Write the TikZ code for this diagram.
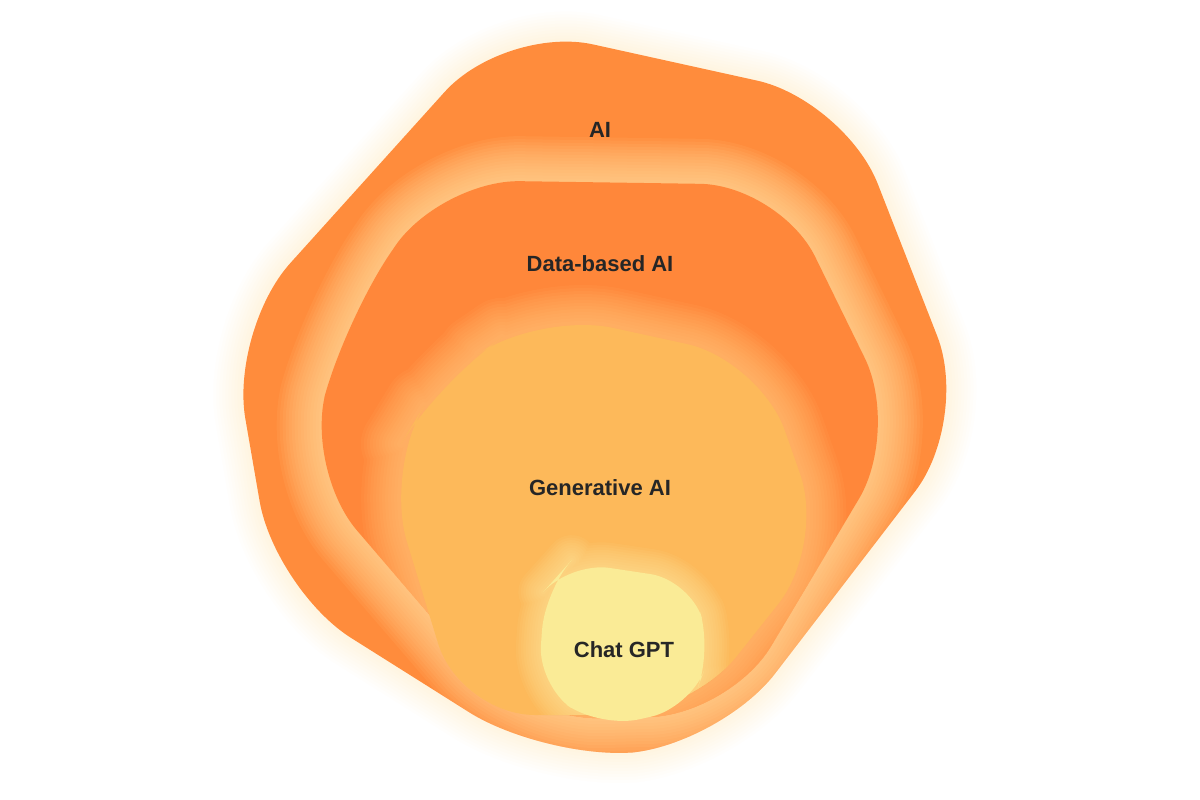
\documentclass[tikz,border=0pt]{standalone}
\usepackage{fontspec}
\setmainfont{Liberation Sans}
\definecolor{cA}{RGB}{255,140,60}
\definecolor{cB}{RGB}{255,135,58}
\definecolor{cC}{RGB}{253,185,90}
\definecolor{cD}{RGB}{250,235,150}
\definecolor{gA}{RGB}{255,225,160}
\definecolor{gB}{RGB}{255,228,165}
\definecolor{gC}{RGB}{255,215,140}
\definecolor{gD}{RGB}{252,235,160}
\begin{document}
\begin{tikzpicture}[x=1pt,y=-1pt,
  lbl/.style={font=\bfseries\fontsize{22}{26}\selectfont, text=black!85},
  glow/.style={line join=round, line cap=round}]
\useasboundingbox (0,0) rectangle (1200,800);
\fill[white] (0,0) rectangle (1200,800);
\def\shA{(505,25) -- (845,100) -- (970,420) -- (720,745) -- (545,760) -- (275,590) -- (230,330) -- cycle}
\def\shB{(440,180) -- (780,185) -- (900,430) -- (730,715) -- (520,720) -- (305,470) -- (345,320) -- cycle}
\def\shC{(540,312) -- (760,360) -- (825,545) -- (690,715) -- (460,715) -- (385,470) -- (440,380) -- cycle}
\def\shD{(570,562) -- (690,580) -- (712,650) -- (690,708) -- (600,728) -- (538,685) -- (545,590) -- cycle}
\foreach \w in {60,54,...,6}{
  \draw[glow, rounded corners=90pt, draw=gA, opacity=0.03, line width=\w pt] \shA;}
\fill[rounded corners=90pt, cA] \shA;
\begin{scope}
\clip[rounded corners=90pt] \shA;
\foreach \w in {90,84,...,6}{
  \draw[glow, rounded corners=80pt, draw=gB, opacity=0.07, line width=\w pt] \shB;}
\end{scope}
\fill[rounded corners=80pt, cB] \shB;
\begin{scope}
\clip[rounded corners=80pt] \shB;
\foreach \w in {80,74,...,6}{
  \draw[glow, rounded corners=75pt, draw=gC, opacity=0.06, line width=\w pt] \shC;}
\end{scope}
\fill[rounded corners=75pt, cC] \shC;
\begin{scope}
\clip[rounded corners=75pt] \shC;
\foreach \w in {50,45,...,5}{
  \draw[glow, rounded corners=40pt, draw=gD, opacity=0.08, line width=\w pt] \shD;}
\end{scope}
\fill[rounded corners=40pt, cD] \shD;
\node[lbl] (ai) at (600,130) {AI};
\node[lbl] (data) at (600,264) {Data-based AI};
\node[lbl] (gen) at (600,488) {Generative AI};
\node[lbl] (chat) at (624,650) {Chat GPT};
\end{tikzpicture}
\end{document}
